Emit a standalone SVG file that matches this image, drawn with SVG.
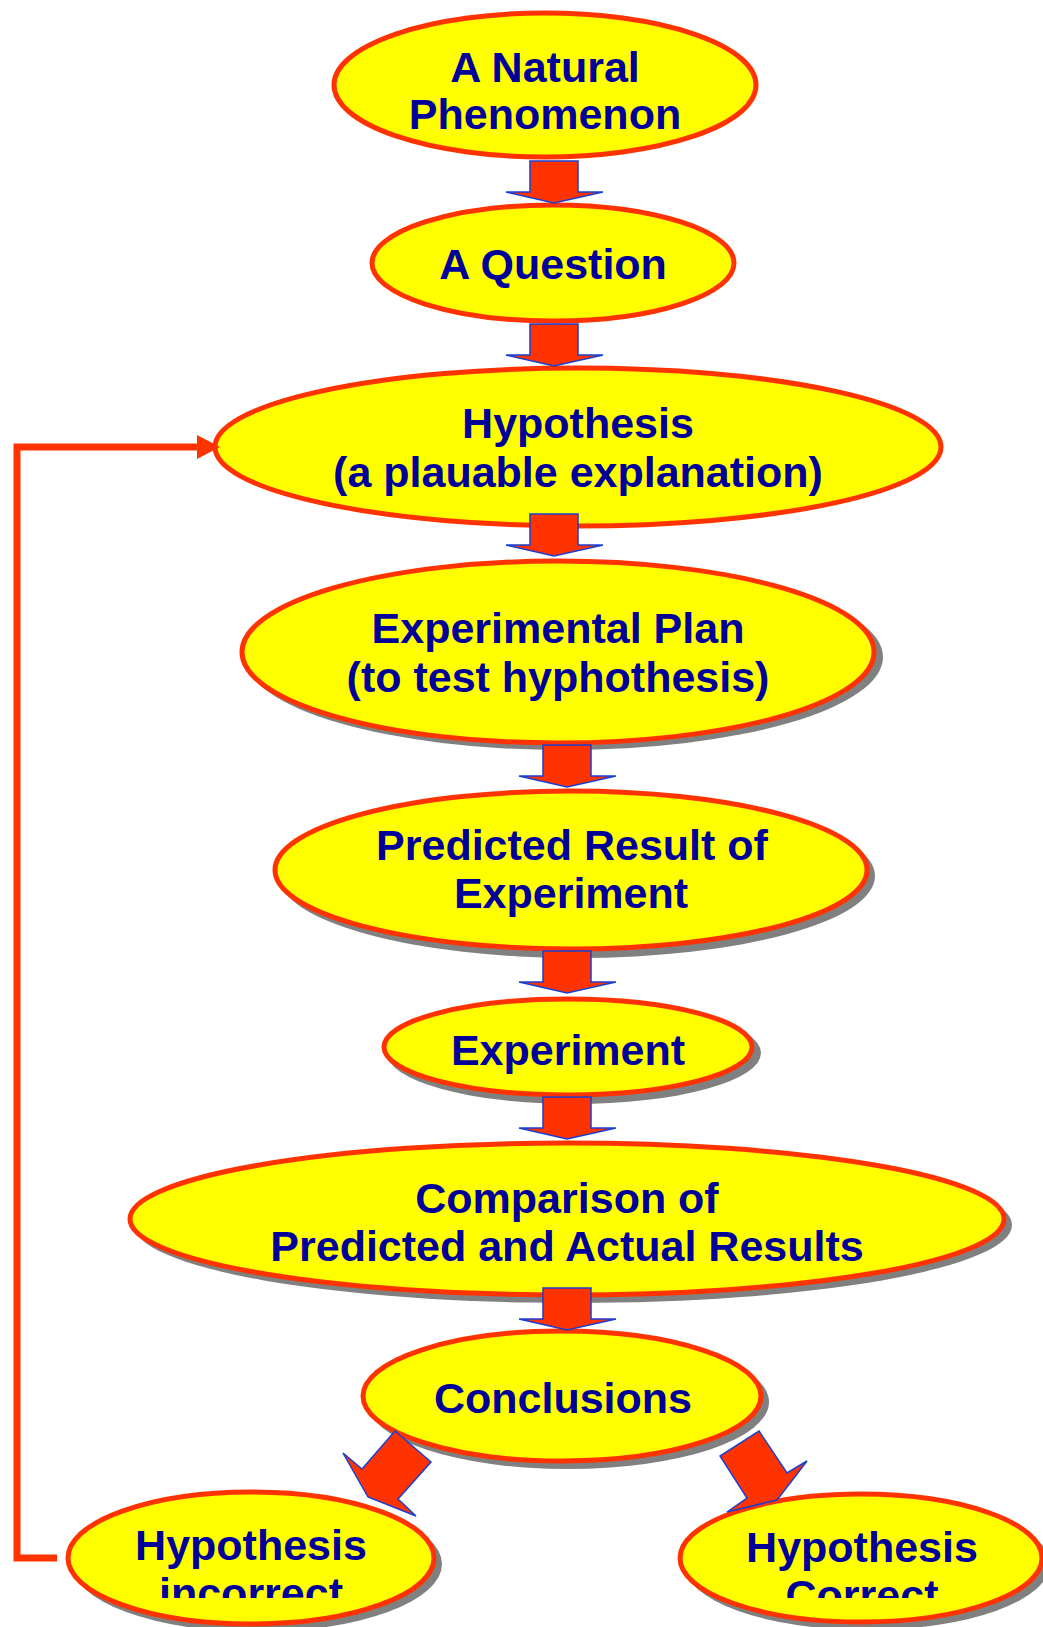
<svg xmlns="http://www.w3.org/2000/svg" width="1043" height="1627" viewBox="0 0 1043 1627">
  <style>
    .node { fill: #FFFF00; stroke: #FF3300; stroke-width: 5; }
    .shadow { fill: #808080; stroke: none; }
    .label { font-family: "Liberation Sans", Arial, sans-serif; font-weight: bold; font-size: 43px; fill: #000099; text-anchor: middle; }
    .arrow { fill: #FF3300; stroke: #1A3FD0; stroke-width: 1.5; stroke-linejoin: miter; }
    .loop { fill: none; stroke: #FF3300; stroke-width: 7; stroke-linejoin: miter; }
  </style>
  <defs>
    <clipPath id="bottomClip">
      <rect x="0" y="0" width="1043" height="1598"/>
    </clipPath>
  </defs>
  <rect x="0" y="0" width="1043" height="1627" fill="#FFFFFF"/>

  <g id="node-phenomenon">
    <ellipse class="node" cx="545" cy="85" rx="211" ry="72"/>
    <text class="label" x="545" y="82">A Natural</text>
    <text class="label" x="545" y="129">Phenomenon</text>
  </g>

  <g id="node-question">
    <ellipse class="node" cx="553" cy="263" rx="181" ry="58"/>
    <text class="label" x="553" y="279">A Question</text>
  </g>

  <g id="node-hypothesis">
    <ellipse class="node" cx="578" cy="447" rx="363" ry="79"/>
    <text class="label" x="578" y="438">Hypothesis</text>
    <text class="label" x="578" y="487">(a plauable explanation)</text>
  </g>

  <g id="node-plan">
    <ellipse class="shadow" cx="564" cy="657" rx="319" ry="93"/>
    <ellipse class="node" cx="558" cy="652" rx="316" ry="91"/>
    <text class="label" x="558" y="643">Experimental Plan</text>
    <text class="label" x="558" y="692">(to test hyphothesis)</text>
  </g>

  <g id="node-predicted">
    <ellipse class="shadow" cx="577" cy="876" rx="298" ry="82"/>
    <ellipse class="node" cx="571" cy="870" rx="296" ry="79"/>
    <text class="label" x="572" y="860">Predicted Result of</text>
    <text class="label" x="571" y="908">Experiment</text>
  </g>

  <g id="node-experiment">
    <ellipse class="shadow" cx="574" cy="1053" rx="187" ry="51"/>
    <ellipse class="node" cx="568" cy="1047" rx="184" ry="48"/>
    <text class="label" x="568" y="1065">Experiment</text>
  </g>

  <g id="node-comparison">
    <ellipse class="shadow" cx="573" cy="1225" rx="439" ry="78"/>
    <ellipse class="node" cx="567" cy="1219" rx="437" ry="76"/>
    <text class="label" x="567" y="1213">Comparison of</text>
    <text class="label" x="567" y="1261">Predicted and Actual Results</text>
  </g>

  <g id="node-conclusions">
    <ellipse class="shadow" cx="568" cy="1402" rx="201" ry="67"/>
    <ellipse class="node" cx="562" cy="1396" rx="199" ry="65"/>
    <text class="label" x="563" y="1413">Conclusions</text>
  </g>

  <g id="node-incorrect">
    <ellipse class="shadow" cx="257" cy="1564" rx="185" ry="68"/>
    <ellipse class="node" cx="251" cy="1558" rx="183" ry="66"/>
    <g clip-path="url(#bottomClip)">
      <text class="label" x="251" y="1560">Hypothesis</text>
      <text class="label" x="251" y="1608">incorrect</text>
    </g>
  </g>

  <g id="node-correct">
    <ellipse class="shadow" cx="867" cy="1564" rx="183" ry="66"/>
    <ellipse class="node" cx="861" cy="1558" rx="181" ry="64"/>
    <g clip-path="url(#bottomClip)">
      <text class="label" x="862" y="1562">Hypothesis</text>
      <text class="label" x="862" y="1610">Correct</text>
    </g>
  </g>

  <g id="connectors">
    <path class="arrow" d="M530,161 L578,161 L578,192 L603,192 L554,203 L506,192 L530,192 Z"/>
    <path class="arrow" d="M530,324 L578,324 L578,355 L603,355 L554,366 L506,355 L530,355 Z"/>
    <path class="arrow" d="M530,514 L578,514 L578,545 L603,545 L554,556 L506,545 L530,545 Z"/>
    <path class="arrow" d="M543,745 L591,745 L591,776 L616,776 L567,787 L519,776 L543,776 Z"/>
    <path class="arrow" d="M543,951 L591,951 L591,982 L616,982 L567,993 L519,982 L543,982 Z"/>
    <path class="arrow" d="M543,1097 L591,1097 L591,1128 L616,1128 L567,1139 L519,1128 L543,1128 Z"/>
    <path class="arrow" d="M543,1288 L591,1288 L591,1319 L616,1319 L567,1330 L519,1319 L543,1319 Z"/>
    <path class="arrow" d="M395,1431 L431,1462 L398,1499 L416,1516 L368,1497 L343,1453 L362,1469 Z"/>
    <path class="arrow" d="M759,1431 L787,1473 L807,1461 L777,1500 L727,1512 L747,1498 L720,1456 Z"/>
    <polyline class="loop" points="57,1558 17,1558 17,447 200,447"/>
    <polygon points="197,435 220,447 197,459" fill="#FF3300"/>
  </g>
</svg>
